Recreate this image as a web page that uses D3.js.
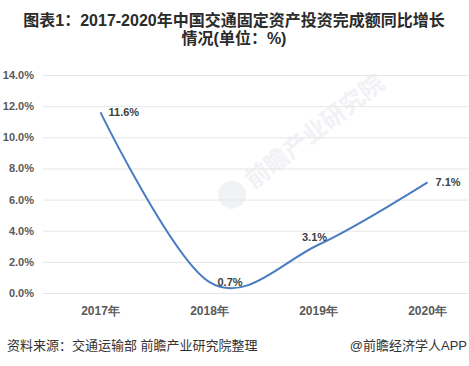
<!DOCTYPE html>
<html>
<head>
<meta charset="utf-8">
<script src="https://cdn.jsdelivr.net/npm/d3@7"></script>
<style>
  body { margin: 0; background: #fff; }
  svg { display: block; font-family: "Liberation Sans", Arial, "Noto Sans CJK SC", sans-serif; }
</style>
</head>
<body>
<svg></svg>
<script>
const titleLines = ["图表1：2017-2020年中国交通固定资产投资完成额同比增长", "情况(单位：%)"]
const years = ["2017年", "2018年", "2019年", "2020年"]
const growth = [11.6, 0.7, 3.1, 7.1]
const yTicks = [0, 2, 4, 6, 8, 10, 12, 14]
const source = "资料来源：交通运输部 前瞻产业研究院整理"
const credit = "@前瞻经济学人APP"

const width = 469, height = 366
const margin = {top: 75, bottom: 73, left: 46, right: -13}

const svg = d3.select("svg")
.attr("width", width)
.attr("height", height)

const x = d3.scaleBand()
.domain(years)
.range([margin.left, width - margin.right])

const y = d3.scaleLinear()
.domain([0, 14])
.range([height - margin.bottom, margin.top])

// title
svg.append("g")
.selectAll("text")
.data(titleLines)
.join("text")
.attr("x", 234)
.attr("y", (d, i) => 26 + i * 18)
.attr("text-anchor", "middle")
.style("font-size", "16px")
.style("font-weight", "bold")
.style("fill", "#2b2b2b")
.text(d => d)

// watermark, very faint
const wm = svg.append("g")
.attr("transform", "translate(292,148) rotate(-38)")
.style("fill", "#f1f2f5")
wm.append("circle").attr("cx", -76).attr("cy", 0).attr("r", 14)
wm.append("text")
.attr("x", -56).attr("y", 9)
.style("font-size", "24px")
.style("font-weight", "bold")
.text("前瞻产业研究院")

// grid + y axis
const yAxis = svg.append("g")
.attr("transform", `translate(${margin.left - 3},0)`)
.call(d3.axisLeft(y).tickValues(yTicks).tickSize(-(width - margin.left + 3)).tickPadding(9).tickFormat(d => d.toFixed(1) + "%"))
yAxis.select(".domain").remove()
yAxis.selectAll(".tick line").attr("stroke", "#e6e6e6")
yAxis.selectAll(".tick text")
.style("font-size", "11px")
.style("font-weight", "bold")
.style("fill", "#595959")

// x axis labels
const xAxis = svg.append("g")
.attr("transform", `translate(0,${height - margin.bottom})`)
.call(d3.axisBottom(x).tickSize(0).tickPadding(13))
xAxis.select(".domain").remove()
xAxis.selectAll(".tick text")
.style("font-size", "12px")
.style("font-weight", "bold")
.style("fill", "#595959")

const cx = d => x(d) + x.bandwidth() / 2

// line
const line = d3.line()
.x((d, i) => cx(years[i]))
.y(d => y(d))
.curve(d3.curveCardinal.tension(0))

svg.append("path")
.datum(growth)
.attr("d", line)
.attr("fill", "none")
.attr("stroke", "#4a7cc2")
.attr("stroke-width", 2)

// data labels (2019 sits above its point, the rest to the right)
svg.append("g")
.selectAll("text")
.data(growth)
.join("text")
.attr("x", (d, i) => i === 2 ? cx(years[i]) - 4 : cx(years[i]) + 8)
.attr("y", (d, i) => i === 2 ? y(d) - 4 : y(d) + 4)
.attr("text-anchor", (d, i) => i === 2 ? "middle" : "start")
.style("font-size", "11px")
.style("font-weight", "bold")
.style("fill", "#404040")
.text(d => d.toFixed(1) + "%")

// footer
svg.append("text")
.attr("x", 7)
.attr("y", 350)
.style("font-size", "13px")
.style("fill", "#333")
.text(source)

svg.append("text")
.attr("x", 467)
.attr("y", 350)
.attr("text-anchor", "end")
.style("font-size", "13px")
.style("fill", "#333")
.text(credit)
</script>
</body>
</html>
